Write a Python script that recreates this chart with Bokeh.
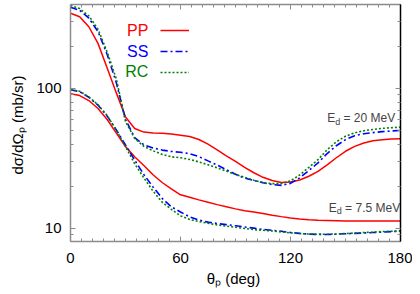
from bokeh.plotting import figure
from bokeh.models import (FixedTicker, LinearAxis, LogAxis, Label, Legend,
                          LegendItem, ColumnDataSource, Range1d)
from bokeh.embed import file_html
from bokeh.resources import INLINE

# ---------------- data ----------------
theta = [0, 5, 10, 15, 20, 25, 30, 35, 40, 45, 50, 55, 60, 65, 70, 75, 80, 85, 90,
         95, 100, 105, 110, 115, 120, 125, 130, 135, 140, 145, 150, 155, 160, 165,
         170, 175, 180]

# E_d = 20 MeV
pp_20 = [345, 325, 276, 210, 140, 93, 62.5, 51.8, 48.8, 48.1, 47.8, 47.3, 46.4, 45.4,
         43.2, 40.0, 36.4, 33.0, 30.1, 27.3, 25.0, 23.2, 22.0, 21.3, 21.5, 22.2, 23.6,
         25.6, 28.5, 32.0, 35.6, 38.6, 40.8, 42.3, 43.1, 43.5, 43.7]
ss_20 = [381, 362, 318, 255, 175, 110, 60, 44.5, 39.6, 37.6, 36.3, 35.5, 35.0, 34.2,
         32.6, 30.4, 28.4, 26.3, 24.4, 22.9, 22.0, 21.2, 20.6, 20.3, 21.0, 23.0, 25.9,
         29.4, 34.3, 39.0, 43.1, 46.0, 47.5, 48.4, 49.2, 49.7, 50.1]
rc_20 = [392, 372, 330, 265, 182, 117, 58, 44.0, 38.6, 35.9, 33.8, 32.5, 32.0, 31.1,
         29.9, 28.5, 27.1, 25.7, 24.3, 23.2, 22.1, 21.3, 20.9, 20.9, 21.9, 24.1, 27.3,
         31.0, 36.5, 41.6, 45.6, 48.2, 49.9, 51.0, 51.9, 52.4, 52.9]

# E_d = 7.5 MeV
pp_75 = [91.6, 89.0, 82.0, 72.0, 60.0, 48.0, 38.5, 32.5, 28.2, 24.2, 21.3, 19.2, 17.4,
         16.7, 16.0, 15.4, 14.8, 14.3, 13.8, 13.4, 13.1, 12.8, 12.45, 12.15, 11.9, 11.7,
         11.55, 11.45, 11.4, 11.35, 11.3, 11.3, 11.3, 11.3, 11.3, 11.3, 11.3]
ss_75 = [98.0, 95.0, 86.5, 76.0, 63.5, 50.5, 39.5, 30.8, 24.3, 19.8, 16.4, 14.3, 13.1,
         12.1, 11.5, 11.1, 10.85, 10.65, 10.45, 10.25, 10.05, 9.85, 9.7, 9.55, 9.35,
         9.22, 9.12, 9.07, 9.06, 9.1, 9.17, 9.22, 9.28, 9.35, 9.43, 9.5, 9.57]
rc_75 = [98.0, 95.5, 87.0, 76.5, 64.0, 50.5, 38.5, 29.0, 23.0, 18.5, 15.4, 13.7, 12.3,
         11.6, 11.2, 10.9, 10.6, 10.4, 10.2, 10.0, 9.8, 9.7, 9.6, 9.45, 9.3, 9.2, 9.12,
         9.1, 9.1, 9.13, 9.2, 9.27, 9.35, 9.42, 9.5, 9.55, 9.6]

series_names = ["PP", "SS", "RC"]
series_colors = ["#ff0000", "#0000ff", "#008000"]

x_ticks = [0, 60, 120, 180]
x_minor_ticks = list(range(0, 181, 6))
y_ticks = [10, 100]
y_minor_ticks = [8, 9, 20, 30, 40, 50, 60, 70, 80, 90, 200, 300, 400]
y_tick_labels = {10: "10", 100: "100"}

x_label = "θₚ  (deg)"
y_label = "dσ/dΩₚ  (mb/sr)"
energy_labels = [("20 MeV", 140.0, 61.1), ("7.5 MeV", 140.9, 14.1)]

FONT = "Liberation Sans"
GRAY = "#8c8c8c"

p = figure(width=412, height=294, x_range=Range1d(0, 180), y_range=Range1d(8.07, 398),
           y_axis_type="log", output_backend="svg", toolbar_location=None,
           min_border_left=70, min_border_right=12, min_border_top=4,
           min_border_bottom=53)
p.outline_line_color = None
p.xgrid.visible = False
p.ygrid.visible = False
p.background_fill_color = "white"


def style_axis(ax, line_color=GRAY, labels=True):
    ax.axis_line_color = line_color
    ax.axis_line_width = 1.5
    ax.major_tick_line_color = GRAY
    ax.minor_tick_line_color = GRAY
    ax.major_tick_in = 5
    ax.major_tick_out = 0
    ax.minor_tick_in = 3
    ax.minor_tick_out = 0
    if labels:
        ax.major_label_text_font = FONT
        ax.major_label_text_font_size = "15px"
        ax.major_label_text_color = "black"
        ax.axis_label_text_font = FONT
        ax.axis_label_text_font_size = "15px"
        ax.axis_label_text_font_style = "normal"
        ax.axis_label_text_color = "black"
    else:
        ax.major_label_text_font_size = "1px"
        ax.major_label_text_color = None
        ax.major_label_standoff = 0


xt = FixedTicker(ticks=x_ticks, minor_ticks=x_minor_ticks)
yt = FixedTicker(ticks=y_ticks, minor_ticks=y_minor_ticks)

xa = p.xaxis[0]
xa.ticker = xt
style_axis(xa)
xa.axis_label = x_label
xa.major_label_standoff = 11
xa.axis_label_standoff = 4

ya = p.yaxis[0]
ya.ticker = yt
style_axis(ya)
ya.axis_label = y_label
ya.major_label_overrides = y_tick_labels
ya.major_label_standoff = 9
ya.axis_label_standoff = 7

top = LinearAxis(ticker=xt)
style_axis(top, labels=False)
p.add_layout(top, "above")

right = LogAxis(ticker=yt)
style_axis(right, line_color="black", labels=False)
p.add_layout(right, "right")

src = ColumnDataSource(dict(theta=theta, pp_20=pp_20, ss_20=ss_20, rc_20=rc_20,
                            pp_75=pp_75, ss_75=ss_75, rc_75=rc_75))

styles = [dict(line_dash="solid", line_width=1.5),
          dict(line_dash="7 3 2 3", line_width=1.6),
          dict(line_dash="2 2", line_width=1.6)]

renderers = []
for name, color, st in zip(series_names, series_colors, styles):
    key = name.lower()
    r1 = p.line("theta", key + "_20", source=src, line_color=color, **st)
    p.line("theta", key + "_75", source=src, line_color=color, **st)
    renderers.append(r1)

legend = Legend(items=[LegendItem(label=" ", renderers=[r]) for r in renderers],
                location=(90, 159), glyph_width=29, glyph_height=20, label_height=20,
                spacing=1, padding=0, margin=0, label_standoff=0,
                label_text_font_size="6px", border_line_color=None,
                background_fill_alpha=0)
p.add_layout(legend, "center")

# legend texts (to the left of the samples)
legend_y = [259.6, 183.6, 132.3]
for name, color, yv in zip(series_names, series_colors, legend_y):
    p.add_layout(Label(x=42.5, y=yv, text=name, text_align="right",
                       text_baseline="middle", text_color=color,
                       text_font=FONT, text_font_size="16px"))

# energy annotations E_d = ...
for txt, xv, yv in energy_labels:
    p.add_layout(Label(x=xv, y=yv, text="E", text_baseline="middle",
                       text_font=FONT, text_font_size="12px"))
    p.add_layout(Label(x=xv, y=yv, x_offset=8, y_offset=-3.5, text="d",
                       text_baseline="middle", text_font=FONT, text_font_size="9px"))
    p.add_layout(Label(x=xv, y=yv, x_offset=16.3, text="= " + txt,
                       text_baseline="middle", text_font=FONT, text_font_size="12px"))

open("out.html", "w").write(file_html(p, INLINE))
